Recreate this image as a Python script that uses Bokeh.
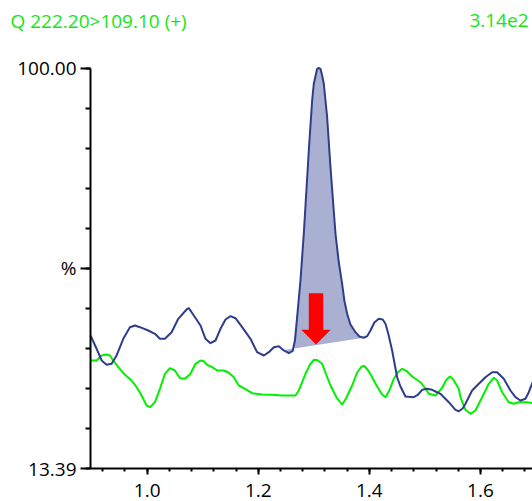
from bokeh.plotting import figure
from bokeh.models import FixedTicker, Label, Range1d
from bokeh.embed import file_html
from bokeh.resources import INLINE

# ---------------- data ----------------
blue_x = [0.898, 0.909, 0.918, 0.927, 0.936, 0.945, 0.957, 0.969, 0.978, 0.987,
          1.002, 1.014, 1.023, 1.032, 1.044, 1.056, 1.071, 1.075, 1.084, 1.096,
          1.105, 1.114, 1.123, 1.132, 1.141, 1.150, 1.159, 1.171, 1.186, 1.198,
          1.210, 1.219, 1.228, 1.237, 1.246, 1.255, 1.262, 1.266, 1.270, 1.276,
          1.282, 1.291, 1.297, 1.300, 1.306, 1.309, 1.312, 1.315, 1.318, 1.324,
          1.330, 1.339, 1.345, 1.351, 1.355, 1.360, 1.366, 1.375, 1.382, 1.390,
          1.396, 1.402, 1.409, 1.417, 1.424, 1.429, 1.434, 1.441, 1.450, 1.456,
          1.465, 1.480, 1.487, 1.495, 1.504, 1.513, 1.521, 1.528, 1.543, 1.555,
          1.561, 1.568, 1.573, 1.585, 1.597, 1.609, 1.621, 1.630, 1.642, 1.654,
          1.663, 1.672, 1.681, 1.687, 1.694]
blue_y = [42.15, 39.28, 36.75, 35.82, 36.03, 37.83, 41.44, 43.95, 44.32, 43.95,
          43.23, 42.52, 41.44, 41.44, 42.87, 45.76, 47.78, 48.06, 46.48, 44.32,
          41.44, 40.49, 41.07, 43.60, 45.61, 46.33, 45.89, 43.95, 41.44, 38.54,
          37.83, 38.54, 39.62, 39.84, 38.91, 38.32, 38.80, 41.07, 46.11, 54.05,
          64.21, 82.16, 92.97, 96.59, 99.83, 100.00, 99.83, 98.38, 96.59, 89.36,
          78.55, 64.21, 57.94, 53.33, 49.72, 46.85, 44.53, 42.87, 41.94, 41.66,
          42.00, 43.23, 44.96, 45.76, 45.61, 44.68, 42.58, 38.91, 33.13, 31.12,
          28.96, 28.81, 29.29, 30.41, 30.63, 30.41, 29.93, 29.54, 27.73, 26.08,
          25.78, 26.37, 27.38, 30.26, 31.71, 33.13, 34.22, 34.22, 32.79, 30.26,
          28.81, 28.10, 28.46, 29.89, 32.05]

green_x = [0.898, 0.909, 0.918, 0.927, 0.933, 0.939, 0.948, 0.960, 0.972, 0.981,
           0.990, 0.999, 1.005, 1.014, 1.023, 1.032, 1.041, 1.050, 1.059, 1.068,
           1.078, 1.087, 1.096, 1.102, 1.108, 1.117, 1.126, 1.138, 1.147, 1.156,
           1.165, 1.174, 1.189, 1.207, 1.225, 1.243, 1.267, 1.273, 1.279, 1.285,
           1.294, 1.300, 1.306, 1.315, 1.323, 1.330, 1.341, 1.351, 1.358, 1.369,
           1.378, 1.386, 1.391, 1.398, 1.405, 1.413, 1.423, 1.429, 1.436, 1.444,
           1.451, 1.459, 1.467, 1.477, 1.492, 1.501, 1.507, 1.519, 1.531, 1.539,
           1.545, 1.551, 1.561, 1.564, 1.573, 1.582, 1.591, 1.603, 1.615, 1.624,
           1.630, 1.639, 1.651, 1.660, 1.669, 1.684, 1.694]
green_y = [36.75, 36.75, 37.83, 38.04, 37.83, 36.75, 35.30, 33.65, 32.42, 30.97,
           29.18, 27.01, 26.65, 27.73, 30.63, 33.87, 35.08, 34.58, 32.92, 32.79,
           33.87, 36.03, 36.75, 36.59, 35.82, 35.30, 34.58, 34.58, 34.09, 33.13,
           31.34, 30.76, 29.67, 29.39, 29.33, 29.18, 29.18, 30.26, 32.05, 33.87,
           36.03, 36.85, 36.85, 36.03, 33.50, 31.34, 28.74, 27.23, 28.53, 31.34,
           34.15, 35.45, 35.56, 34.58, 33.13, 31.34, 29.39, 28.81, 30.26, 32.79,
           34.15, 34.95, 34.48, 33.29, 32.05, 30.69, 29.54, 29.18, 30.84, 32.64,
           33.29, 32.64, 30.63, 28.81, 26.08, 25.22, 25.93, 28.81, 31.71, 33.00,
           32.42, 29.89, 27.73, 27.38, 27.73, 27.73, 27.51]

# integrated peak: baseline end points
peak_start = (1.247, 39.0)
peak_end = (1.390, 41.66)

# red marker arrow
arrow_x = 1.304
arrow_top = 51.3
arrow_neck = 43.4
arrow_tip = 40.2
shaft_half = 0.013
head_half = 0.0265

x_min, x_max = 0.898, 1.6937
x_ticks = [1.0, 1.2, 1.4, 1.6]
x_tick_labels = ["1.0", "1.2", "1.4", "1.6"]
x_minor = [0.92, 0.96, 1.0, 1.04, 1.08, 1.12, 1.16, 1.2, 1.24, 1.28, 1.32, 1.36,
           1.4, 1.44, 1.48, 1.52, 1.56, 1.6, 1.64, 1.68]
y_min, y_max = 13.39, 100.0
y_ticks = [13.39, 56.695, 100.0]
y_tick_labels = ["13.39", "%", "100.00"]

title_left = "Q 222.20>109.10 (+)"
title_right = "3.14e2"

# ---------------- layout (pixels) ----------------
W, H = 532, 501
LEFT = 90          # pixel column of the y axis
TOP = 67.5         # pixel row of 100 %
BASE = 468         # pixel row of the x axis
px_x = (W - LEFT) / (x_max - x_min)
px_y = (BASE - TOP) / (y_max - y_min)
xr_start = x_min - LEFT / px_x
yr_end = y_max + TOP / px_y
yr_start = y_min - (H - BASE) / px_y

FONT = "Open Sans"
BLUE = "#2f3d8a"
FILL = "#a9b0d1"
GREEN = "#00f000"
TXT_GREEN = "#14e614"

p = figure(width=W, height=H, output_backend="svg", toolbar_location=None,
           x_range=Range1d(xr_start, x_max), y_range=Range1d(yr_start, yr_end),
           min_border_left=0, min_border_right=0, min_border_top=0,
           min_border_bottom=0)
p.title.visible = False
p.grid.visible = False
p.outline_line_color = None
p.background_fill_color = "white"
p.border_fill_color = "white"

# fill under the peak
sel = [(x, y) for x, y in zip(blue_x, blue_y) if peak_start[0] < x < peak_end[0]]
fx = [peak_start[0]] + [x for x, _ in sel] + [peak_end[0]]
fy = [peak_start[1]] + [y for _, y in sel] + [peak_end[1]]
p.patch(fx, fy, fill_color=FILL, line_color=None)

p.line(green_x, green_y, line_color=GREEN, line_width=2, line_join="round")
p.line(blue_x, blue_y, line_color=BLUE, line_width=2, line_join="round")

# arrow
ax = [arrow_x - shaft_half, arrow_x + shaft_half, arrow_x + shaft_half, arrow_x + head_half,
      arrow_x, arrow_x - head_half, arrow_x - shaft_half]
ay = [arrow_top, arrow_top, arrow_neck, arrow_neck, arrow_tip, arrow_neck, arrow_neck]
p.patch(ax, ay, fill_color="#ff0000", line_color=None)

# axes
xa = p.xaxis[0]
xa.ticker = FixedTicker(ticks=x_ticks, minor_ticks=x_minor)
xa.major_label_overrides = dict(zip(x_ticks, x_tick_labels))
xa.bounds = (x_min, x_max)
xa.fixed_location = y_min
ya = p.yaxis[0]
ya.ticker = FixedTicker(ticks=y_ticks,
                        minor_ticks=[y_min + i * (y_max - y_min) / 10 for i in range(11)])
ya.major_label_overrides = dict(zip(y_ticks, y_tick_labels))
ya.bounds = (y_min, y_max)
ya.fixed_location = x_min

for a in (xa, ya):
    a.axis_line_color = "black"
    a.axis_line_width = 2
    a.major_tick_line_color = "black"
    a.minor_tick_line_color = "black"
    a.major_tick_line_width = 2
    a.minor_tick_line_width = 2
    a.major_tick_in = 0
    a.minor_tick_in = 0
    a.major_label_text_font = FONT
    a.major_label_text_font_size = "19px"
    a.major_label_text_color = "black"
xa.major_tick_out = 6
xa.minor_tick_out = 3
xa.major_label_standoff = 9
ya.major_tick_out = 10
ya.minor_tick_out = 5
ya.major_label_standoff = 4

# titles
t_y = yr_end - 20 / px_y
p.add_layout(Label(x=xr_start + 10 / px_x, y=t_y, text=title_left, text_font=FONT,
                   text_font_size="19px", text_color=TXT_GREEN,
                   text_baseline="middle", text_align="left"))
p.add_layout(Label(x=xr_start + 528 / px_x, y=t_y, text=title_right, text_font=FONT,
                   text_font_size="19px", text_color=TXT_GREEN,
                   text_baseline="middle", text_align="right"))

open("out.html", "w").write(file_html(p, INLINE))
